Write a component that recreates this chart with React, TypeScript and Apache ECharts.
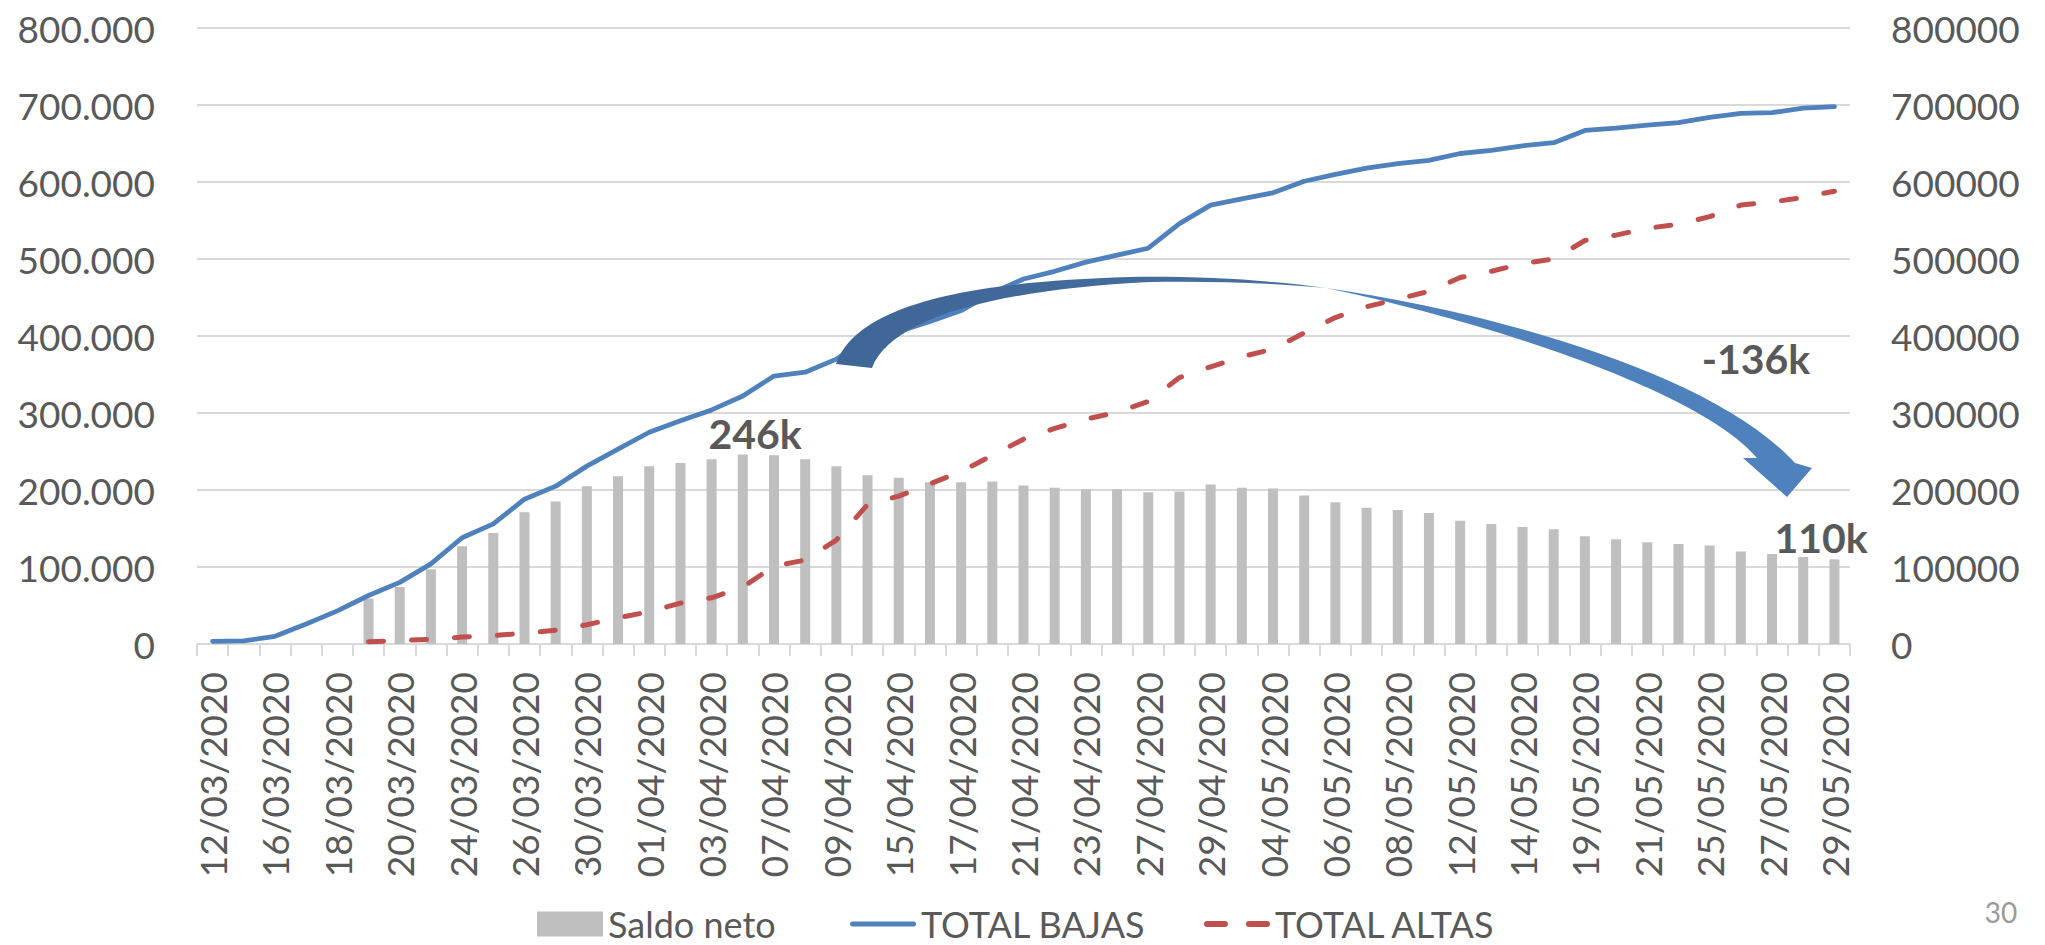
import React, { useEffect, useRef } from "react";
import * as echarts from "echarts";

const dates = [
  "12/03/2020", "13/03/2020", "16/03/2020", "17/03/2020", "18/03/2020", "19/03/2020", "20/03/2020",
  "23/03/2020", "24/03/2020", "25/03/2020", "26/03/2020", "27/03/2020", "30/03/2020", "31/03/2020",
  "01/04/2020", "02/04/2020", "03/04/2020", "06/04/2020", "07/04/2020", "08/04/2020", "09/04/2020",
  "14/04/2020", "15/04/2020", "16/04/2020", "17/04/2020", "20/04/2020", "21/04/2020", "22/04/2020",
  "23/04/2020", "24/04/2020", "27/04/2020", "28/04/2020", "29/04/2020", "30/04/2020", "04/05/2020",
  "05/05/2020", "06/05/2020", "07/05/2020", "08/05/2020", "11/05/2020", "12/05/2020", "13/05/2020",
  "14/05/2020", "18/05/2020", "19/05/2020", "20/05/2020", "21/05/2020", "22/05/2020", "25/05/2020",
  "26/05/2020", "27/05/2020", "28/05/2020", "29/05/2020",
];

const totalBajas = [
  3500, 4000, 10000, 26000, 43000, 63000, 80000, 104000, 138000, 156000,
  188000, 205000, 231000, 253000, 275000, 290000, 304000, 322000, 348000, 353000,
  370000, 395000, 406000, 419000, 433000, 456000, 474000, 484000, 496000, 505000,
  514000, 546000, 570000, 578000, 586000, 601000, 610000, 618000, 624000, 628000,
  637000, 641000, 647000, 651000, 667000, 670000, 674000, 677000, 684000, 689000,
  690000, 696000, 698000,
];

const totalAltas = [
  null, null, null, null, null, 3000, 4500, 6000, 9000, 11000,
  14000, 18000, 25000, 34000, 42000, 53000, 60000, 74000, 101000, 109000,
  135000, 181000, 192000, 208000, 224000, 245000, 266000, 280000, 292000, 301000,
  315000, 346000, 360000, 373000, 383000, 404000, 424000, 438000, 448000, 458000,
  476000, 484000, 494000, 500000, 524000, 531000, 540000, 545000, 555000, 570000,
  574000, 580000, 588000,
];

const saldoNeto = [
  null, null, null, null, null, 59000, 74000, 97000, 127000, 144000,
  171000, 185000, 205000, 218000, 231000, 235000, 240000, 246000, 245000, 240000,
  231000, 219000, 216000, 210000, 210000, 211000, 206000, 203000, 201000, 201000,
  197000, 198000, 207000, 203000, 202000, 193000, 184000, 177000, 174000, 170000,
  160000, 156000, 152000, 149000, 140000, 136000, 132000, 130000, 128000, 120000,
  117000, 113000, 110000,
];

const seriesNames = ["Saldo neto", "TOTAL BAJAS", "TOTAL ALTAS"];
const annotations = ["246k", "-136k", "110k"];
const pageNumber = "30";

const ARROW_BACK =
  "M836 364 C855 310 950 282 1130 277 C1200 276 1270 280 1326 288 C1260 282 1200 281 1150 282 C990 290 890 320 872 368 Z";
const ARROW_FRONT =
  "M1326 288 C1480 310 1710 370 1795 463 L1812 468 L1787 497 L1743 458 L1757 458 C1700 390 1480 320 1326 288 Z";

echarts.graphic.registerShape("arrowBack", echarts.graphic.extendPath(ARROW_BACK, {}));
echarts.graphic.registerShape("arrowFront", echarts.graphic.extendPath(ARROW_FRONT, {}));

const FONT = "Lato";
const TEXT = "#595959";
const GRID = "#D9D9D9";
const BLUE = "#4F81BD";
const RED = "#C0504D";

const LEGEND_SOLID = "path://M2.5 0H63.5A2.5 2.5 0 0 1 63.5 5H2.5A2.5 2.5 0 0 1 2.5 0Z";
const LEGEND_DASH =
  "path://M3 0H21A3 3 0 0 1 21 6H3A3 3 0 0 1 3 0Z M45 0H63A3 3 0 0 1 63 6H45A3 3 0 0 1 45 0Z";

function fmtDots(v: number) {
  return String(v).replace(/\B(?=(\d{3})+(?!\d))/g, ".");
}

const legendBase = {
  top: 906,
  padding: 0,
  itemWidth: 66,
  itemHeight: 25,
  textStyle: { fontFamily: FONT, fontSize: 36, color: TEXT, lineHeight: 34 },
};

export default function App() {
  const ref = useRef<HTMLDivElement>(null);

  useEffect(() => {
    if (!ref.current) return;
    const chart = echarts.init(ref.current, null, { renderer: "svg" });
    chart.setOption({
      animation: false,
      backgroundColor: "#FFFFFF",
      textStyle: { fontFamily: FONT },
      grid: { left: 197, right: 195, top: 28, bottom: 301, containLabel: false },
      legend: [
        { ...legendBase, left: 537, data: [{ name: seriesNames[0], icon: "rect" }] },
        {
          ...legendBase,
          left: 850,
          data: [{ name: seriesNames[1], icon: LEGEND_SOLID, itemStyle: { color: BLUE, borderWidth: 0 } }],
        },
        {
          ...legendBase,
          left: 1204,
          data: [{ name: seriesNames[2], icon: LEGEND_DASH, itemStyle: { color: RED, borderWidth: 0 } }],
        },
      ],
      xAxis: {
        type: "category",
        data: dates,
        boundaryGap: true,
        axisLine: { show: true, lineStyle: { color: GRID, width: 2 } },
        axisTick: { show: true, interval: 0, length: 12, lineStyle: { color: GRID, width: 2 } },
        axisLabel: {
          interval: 1,
          rotate: 90,
          margin: 28,
          fontFamily: FONT,
          fontSize: 37,
          color: TEXT,
        },
      },
      yAxis: [
        {
          type: "value",
          min: 0,
          max: 800000,
          interval: 100000,
          position: "left",
          axisLine: { show: false },
          axisTick: { show: false },
          splitLine: { show: true, lineStyle: { color: GRID, width: 2 } },
          axisLabel: {
            margin: 42,
            fontFamily: FONT,
            fontSize: 37,
            color: TEXT,
            formatter: (v: number) => fmtDots(v),
          },
        },
        {
          type: "value",
          min: 0,
          max: 800000,
          interval: 100000,
          position: "right",
          axisLine: { show: false },
          axisTick: { show: false },
          splitLine: { show: false },
          axisLabel: {
            margin: 41,
            fontFamily: FONT,
            fontSize: 37,
            color: TEXT,
            formatter: (v: number) => String(v),
          },
        },
      ],
      series: [
        {
          name: seriesNames[0],
          type: "bar",
          yAxisIndex: 1,
          data: saldoNeto,
          barWidth: 10,
          itemStyle: { color: "#BFBFBF" },
          z: 1,
        },
        {
          name: seriesNames[1],
          type: "line",
          yAxisIndex: 0,
          data: totalBajas,
          symbol: "none",
          showSymbol: false,
          itemStyle: { color: BLUE },
          lineStyle: { color: BLUE, width: 4.8, cap: "round", join: "round" },
          z: 3,
        },
        {
          name: seriesNames[2],
          type: "line",
          yAxisIndex: 0,
          data: totalAltas,
          symbol: "none",
          showSymbol: false,
          itemStyle: { color: RED },
          lineStyle: { color: RED, width: 5, type: [15, 28], cap: "round", join: "round" },
          z: 3,
        },
      ],
      graphic: [
        {
          type: "arrowBack",
          x: 0,
          y: 0,
          z: 100,
          style: {
            fill: {
              type: "linear",
              x: 0,
              y: 0,
              x2: 1,
              y2: 0,
              colorStops: [
                { offset: 0, color: "#3E6696" },
                { offset: 1, color: "#45709F" },
              ],
            },
          },
        },
        {
          type: "arrowFront",
          x: 0,
          y: 0,
          z: 100,
          style: { fill: BLUE },
        },
        {
          type: "text",
          x: 755,
          y: 433,
          z: 101,
          style: {
            text: annotations[0],
            fontFamily: FONT,
            fontSize: 41,
            fontWeight: "bold",
            fill: TEXT,
            align: "center",
            verticalAlign: "middle",
          },
        },
        {
          type: "text",
          x: 1756,
          y: 358,
          z: 101,
          style: {
            text: annotations[1],
            fontFamily: FONT,
            fontSize: 41,
            fontWeight: "bold",
            fill: TEXT,
            align: "center",
            verticalAlign: "middle",
          },
        },
        {
          type: "text",
          x: 1821,
          y: 537,
          z: 101,
          style: {
            text: annotations[2],
            fontFamily: FONT,
            fontSize: 41,
            fontWeight: "bold",
            fill: TEXT,
            align: "center",
            verticalAlign: "middle",
          },
        },
        {
          type: "text",
          x: 2001,
          y: 912,
          z: 101,
          style: {
            text: pageNumber,
            fontFamily: FONT,
            fontSize: 28,
            fill: "#9A9A9A",
            align: "center",
            verticalAlign: "middle",
          },
        },
      ],
    });
    return () => chart.dispose();
  }, []);

  return (
    <div
      ref={ref}
      style={{ position: "absolute", left: 0, top: 0, width: 2045, height: 945, background: "#FFFFFF" }}
    />
  );
}
